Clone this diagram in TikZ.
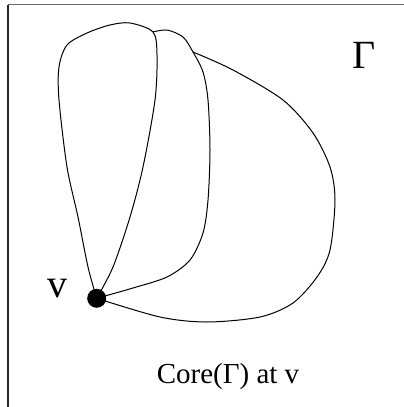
\documentclass[tikz,border=0pt]{standalone}
\usepackage{fontspec}
\setmainfont{Liberation Serif}
\usetikzlibrary{calc}
\definecolor{framegray}{gray}{0.4}

\begin{document}
\begin{tikzpicture}[x=1pt,y=-1pt,line width=1pt]
  \useasboundingbox (0,0) rectangle (404,407);
  \draw[framegray,line width=1.8pt] (8,4.5) -- (404,4.5);
  \draw[black!85,line width=1.8pt] (8,4.5) -- (8,407);

  \node[circle,fill,inner sep=0pt,minimum size=19pt] (V) at (96.7,298.3) {};
  \node[font=\fontsize{40}{40}\selectfont] (Vlab) at (57,289) {v};
  \node[font=\fontsize{40}{40}\selectfont] (G) at (364.5,55.5) {Γ};
  \node[font=\fontsize{29}{29}\selectfont,anchor=base] (C) at (228,383) {Core(Γ) at v};

  \coordinate (J1) at (153,32);
  \coordinate (J2) at (193,52);

  \draw plot[smooth] coordinates {(V.center) (88,267) (78,217) (67,167) (59,100)
        (59,67) (67,45) (87,33) (110,25) (130,23) (J1) (157,55) (155,100)
        (143,167) (130,217) (113,267) (V.center)};
  \draw plot[smooth] coordinates {(J1) (167,30) (183,37) (J2) (203,72) (208,100)
        (210,150) (208,200) (203,233) (190,260) (167,277) (133,288) (V.center)};
  \draw plot[smooth] coordinates {(J2) (233,70) (283,100) (313,133) (330,167)
        (335,200) (330,250) (317,277) (293,303) (260,317) (207,322) (160,317)
        (V.center)};
\end{tikzpicture}
\end{document}
